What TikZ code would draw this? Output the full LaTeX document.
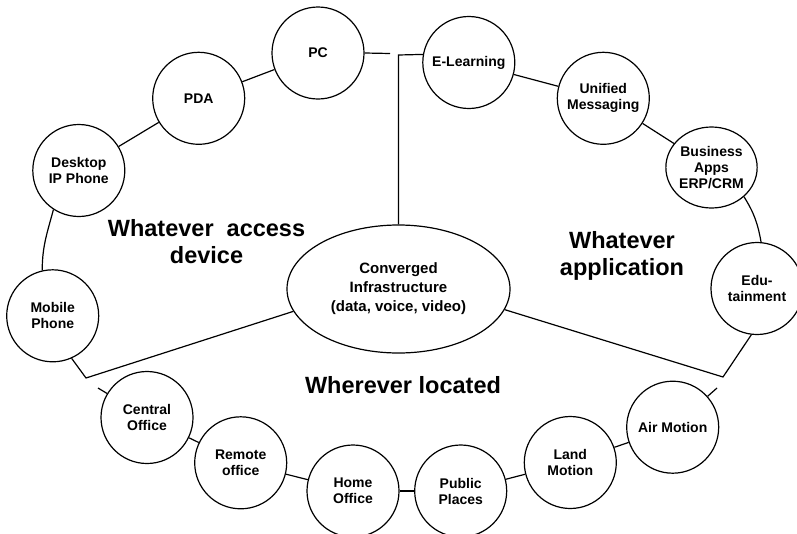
\documentclass[tikz,border=0pt]{standalone}
\usepackage{fontspec}
\setmainfont{Liberation Sans}
\usetikzlibrary{shapes.geometric}
\begin{document}
\begin{tikzpicture}[x=1pt,y=-1pt,
  every path/.style={line width=1.2pt},
  circ/.style={draw,circle,minimum size=92pt,inner sep=0pt,align=center,
    font=\bfseries\fontsize{14}{16}\selectfont},
  conv/.style={draw,ellipse,minimum width=223pt,minimum height=128pt,inner sep=0pt,align=center,
    font=\bfseries\fontsize{15}{19}\selectfont},
  big/.style={align=center,inner sep=0pt,font=\bfseries\fontsize{23.5}{27}\selectfont},
  link/.style={draw,line width=1.2pt}]
\useasboundingbox (0,0) rectangle (797,533);
% central
\node[conv] (core) at (398.5,289) {Converged\\Infrastructure\\(data, voice, video)};
% circles
\node[circ] (pc)   at (318,53)    {PC};
\node[circ] (pda)  at (198.7,98.3) {PDA};
\node[circ] (desk) at (78.8,170.5) {Desktop\\IP Phone};
\node[circ] (mob)  at (52.7,315.8) {Mobile\\Phone};
\node[circ] (co)   at (147,417.5) {Central\\Office};
\node[circ] (ro)   at (240.7,462.8) {Remote\\office};
\node[circ] (ho)   at (353,491) {Home\\Office};
\node[circ] (pp)   at (460.7,491) {Public\\Places};
\node[circ] (lm)   at (570.3,462.5) {Land\\Motion};
\node[circ] (am)   at (672.7,427.2) {Air Motion};
\node[circ] (edu)  at (757,288.5) {Edu-\\tainment};
\node[circ,ellipse,minimum width=89pt,minimum height=81pt] (biz) at (711.5,167.5) {Business\\Apps\\ERP/CRM};
\node[circ] (um)   at (603.3,98.3) {Unified\\Messaging};
\node[circ] (el)   at (468.8,62.5) {E-Learning};
% labels
\node[big] (l1) at (206.5,241.5) {Whatever~~access\\device};
\node[big] (l2) at (622,255.5) {Whatever\\application};
\node[big] (l3) at (403,385) {Wherever located};
% junction coordinates
\coordinate (jt) at (398.5,55);
\coordinate (pcend) at (390,53.5);
\coordinate (jl) at (86,378);
\coordinate (jr) at (723,377);
\coordinate (costub) at (98,388);
\coordinate (amstub) at (717,388);
% dividers
\draw[link] (core.north) -- (jt) -- (el.170);
\draw[link] (pc.east) -- (pcend);
\draw[link] (mob.-66) -- (jl) -- (core.192);
\draw[link] (edu.263) -- (jr) -- (core.349);
\draw[link] (costub) -- (co);
\draw[link] (amstub) -- (am);
% ring
\draw[link] (desk) -- (pda);
\draw[link] (pda) -- (pc);
\draw[link] (el) -- (um);
\draw[link] (um) -- (biz);
\draw[link] (biz.-42) to[out=-58,in=100] (edu.85);
\draw[link] (desk.237) to[out=255,in=90] (mob.103);
\draw[link] (co) -- (ro);
\draw[link] (ro) -- (ho);
\draw[link] (ho) -- (pp);
\draw[link] (pp) -- (lm);
\draw[link] (lm) -- (am);
\end{tikzpicture}
\end{document}
